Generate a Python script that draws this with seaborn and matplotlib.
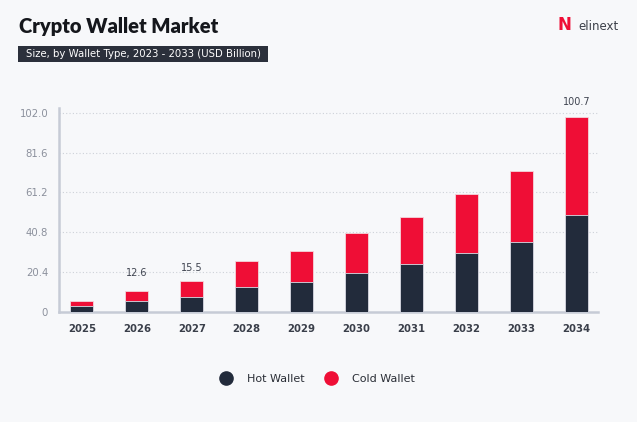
import matplotlib
matplotlib.use("Agg")
import matplotlib.pyplot as plt
import seaborn as sns
import pandas as pd
from matplotlib.patches import FancyBboxPatch
from matplotlib.lines import Line2D

years = ["2025", "2026", "2027", "2028", "2029", "2030", "2031", "2032", "2033", "2034"]
hot_wallet = [2.9, 5.3, 7.7, 12.8, 15.4, 20.0, 24.3, 30.1, 35.9, 49.6]
cold_wallet = [2.7, 5.3, 8.0, 13.2, 15.6, 20.2, 24.4, 30.4, 36.2, 50.0]
label_years = ["2026", "2027", "2034"]
label_values = [12.6, 15.5, 100.7]
y_ticks = [0, 20.4, 40.8, 61.2, 81.6, 102.0]
y_tick_labels = ["0", "20.4", "40.8", "61.2", "81.6", "102.0"]

HOT = "#222b3b"
COLD = "#ef0e36"
BG = "#f7f8fa"
FONT = "DejaVu Sans"

sns.set_theme(style="white")
plt.rcParams["font.family"] = [FONT]

df = pd.DataFrame({"year": years, "hot": hot_wallet, "cold": cold_wallet})
df["total"] = df["hot"] + df["cold"]

fig = plt.figure(figsize=(6.37, 4.22), dpi=100, facecolor=BG)
ax = fig.add_axes([59.3 / 637, 1 - 311.7 / 422, (598 - 59.3) / 637, (311.7 - 108.3) / 422])
ax.set_facecolor(BG)

sns.barplot(data=df, x="year", y="total", color=COLD, width=0.42, ax=ax,
            saturation=1, edgecolor="#f3d6dc", linewidth=0.6, zorder=3)
sns.barplot(data=df, x="year", y="hot", color=HOT, width=0.42, ax=ax,
            saturation=1, edgecolor="#d9dde6", linewidth=0.6, zorder=4)

ax.set_xlim(-0.41, 9.39)
ax.set_ylim(0, 104.3)
ax.set_yticks(y_ticks)
ax.set_yticklabels(y_tick_labels, color="#8b909c", fontsize=7.3)
ax.tick_params(axis="x", colors="#3a3f4a", labelsize=7.3, length=0, pad=9)
ax.tick_params(axis="y", length=0, pad=8)
for lbl in ax.get_xticklabels():
    lbl.set_fontweight("bold")
ax.set_xlabel("")
ax.set_ylabel("")

for yt in y_ticks[1:]:
    ax.axhline(yt, color="#cdd1d8", linewidth=0.8, linestyle=(0, (1, 2)), zorder=1)

for side in ["top", "right"]:
    ax.spines[side].set_visible(False)
for side in ["left", "bottom"]:
    ax.spines[side].set_color("#c6cbd6")
    ax.spines[side].set_linewidth(1.8)

for yr, v in zip(label_years, label_values):
    ax.text(years.index(yr), v + 7, f"{v}", ha="center", va="center",
            fontsize=7, color="#3f4450", clip_on=False)

# Title and subtitle
fig.text(19 / 637, 1 - 27 / 422, "Crypto Wallet Market", fontsize=14.5, fontweight="heavy",
         family=["Lato", "DejaVu Sans"], color="#15171c", va="center", ha="left")
fig.patches.append(FancyBboxPatch((18.3 / 637, 1 - 62.3 / 422), 250 / 637, 16.3 / 422,
                                  boxstyle="square,pad=0", transform=fig.transFigure,
                                  facecolor="#2b303b", edgecolor="none"))
fig.text(25.5 / 637, 1 - 54.2 / 422, "Size, by Wallet Type, 2023 - 2033 (USD Billion)",
         fontsize=7.3, color="white", va="center", ha="left")

# Logo
fig.text(564 / 637, 1 - 25 / 422, "N", fontsize=12, fontweight="bold", color=COLD,
         va="center", ha="center")
fig.text(578 / 637, 1 - 26 / 422, "elinext", fontsize=8.5, color="#3b3f48",
         va="center", ha="left")

# Legend
handles = [Line2D([0], [0], marker="o", linestyle="", markersize=9.5,
                  markerfacecolor=HOT, markeredgecolor=HOT, label="Hot Wallet"),
           Line2D([0], [0], marker="o", linestyle="", markersize=9.5,
                  markerfacecolor=COLD, markeredgecolor=COLD, label="Cold Wallet")]
fig.legend(handles=handles, loc="center", bbox_to_anchor=(315 / 637, 1 - 379.3 / 422),
           ncol=2, frameon=False, fontsize=8, handletextpad=0.9, columnspacing=1.4,
           labelcolor="#2a2e36")

fig.savefig("out.png", dpi=100, facecolor=BG)
